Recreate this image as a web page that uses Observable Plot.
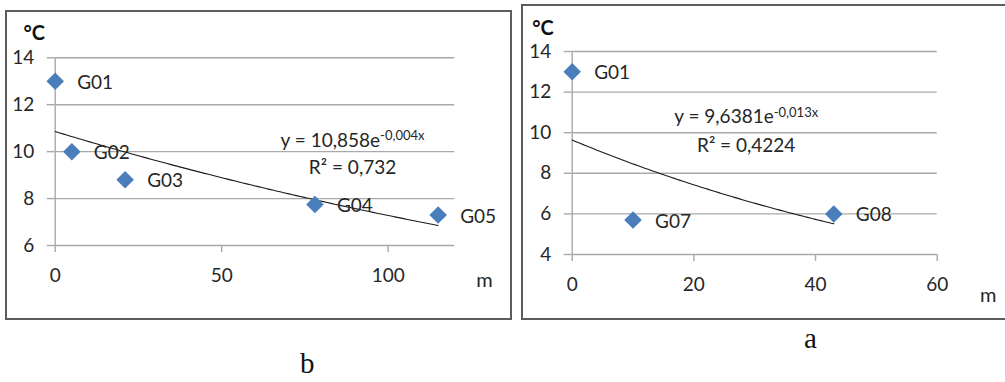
<!DOCTYPE html>
<html>
<head>
<meta charset="utf-8">
<script src="https://cdn.jsdelivr.net/npm/d3@7"></script>
<script src="https://cdn.jsdelivr.net/npm/@observablehq/plot@0.6"></script>
<style>
  html, body { margin: 0; padding: 0; background: #fff; }
  #page { position: relative; width: 1005px; height: 382px; overflow: hidden; background: #fff; }
  .frame { position: absolute; box-sizing: border-box; border: 2px solid #5c5c5c; }
  .chart { position: absolute; top: 0; }
  .cap { position: absolute; font-family: "Liberation Serif", "Times New Roman", serif; font-size: 29px; color: #111; line-height: 0.8; height: 24px; }
</style>
</head>
<body>
<div id="page">
  <div class="frame" style="left:5px; top:10px; width:507px; height:310px;"></div>
  <div class="frame" style="left:521px; top:4px; width:500px; height:316px;"></div>
  <div id="left" class="chart" style="left:0px;"></div>
  <div id="right" class="chart" style="left:515px;"></div>
  <div class="cap" style="left:804px; top:327px;">a</div>
  <div class="cap" style="left:300px; top:352px;">b</div>
</div>
<script>
// ---- Data: panel b (left) ----
const leftNames = ["G01", "G02", "G03", "G04", "G05"];
const leftX = [0, 5, 21, 78, 115];
const leftY = [13, 10, 8.8, 7.75, 7.3];
const leftXTicks = [0, 50, 100];
const leftYTicks = [6, 8, 10, 12, 14];
const leftTrend = [10.858, -0.004];           // y = a·e^(b·x)
const leftEq = "y = 10,858e^-0,004x";
const leftR2 = "R² = 0,732";

// ---- Data: panel a (right) ----
const rightNames = ["G01", "G07", "G08"];
const rightX = [0, 10, 43];
const rightY = [13, 5.7, 6.0];
const rightXTicks = [0, 20, 40, 60];
const rightYTicks = [4, 6, 8, 10, 12, 14];
const rightTrend = [9.6381, -0.013];
const rightEq = "y = 9,6381e^-0,013x";
const rightR2 = "R² = 0,4224";

const unitY = "°C";
const unitX = "m";

const GRID = "#a9a9a9";
const BLUE = "#4a7ebb";
const TEXT = "#262626";

function trendPoints(coef, xs) {
  const x0 = d3.min(xs), x1 = d3.max(xs);
  return d3.range(0, 101).map(i => {
    const x = x0 + (x1 - x0) * i / 100;
    return {x, y: coef[0] * Math.exp(coef[1] * x)};
  });
}

function makePanel(cfg) {
  const pts = cfg.names.map((n, i) => ({name: n, x: cfg.xs[i], y: cfg.ys[i]}));
  const plot = Plot.plot({
    width: cfg.width, height: 320,
    marginLeft: cfg.ml, marginRight: cfg.mr, marginTop: cfg.mt, marginBottom: cfg.mb,
    x: {domain: cfg.xDomain, ticks: cfg.xTicks},
    y: {domain: cfg.yDomain, ticks: cfg.yTicks},
    style: {fontFamily: "Lato, 'Open Sans', sans-serif", fontSize: "19px", color: TEXT, background: "transparent", overflow: "visible"},
    marks: [
      Plot.gridY(cfg.yTicks, {stroke: GRID, strokeOpacity: 1, strokeWidth: 1.4}),
      Plot.ruleX([cfg.xDomain[0]], {y1: cfg.yDomain[0], y2: cfg.yDomain[1], stroke: GRID, strokeWidth: 1.4}),
      Plot.axisY(cfg.yTicks, {tickSize: 8, tickPadding: 13, stroke: GRID, strokeWidth: 1.4, label: null, fontSize: 19, fill: TEXT}),
      Plot.axisX(cfg.xTicks, {tickSize: 7, tickPadding: 16, stroke: GRID, strokeWidth: 1.4, label: null, fontSize: 19, fill: TEXT}),
      Plot.line(trendPoints(cfg.trend, cfg.xs), {x: "x", y: "y", stroke: "#1a1a1a", strokeWidth: 1.1}),
      Plot.dot(pts, {x: "x", y: "y", symbol: "diamond2", r: 7.9, fill: BLUE, stroke: "none"}),
      Plot.text(pts, {x: "x", y: "y", text: "name", dx: 22, dy: 1.5, textAnchor: "start", fontSize: 19, fill: TEXT}),
      Plot.text([cfg.eq], {x: cfg.eqPos[0], y: cfg.eqPos[1], text: d => d, textAnchor: "middle", fontSize: 19, fill: TEXT}),
      Plot.text([cfg.r2], {x: cfg.r2Pos[0], y: cfg.r2Pos[1], text: d => d, textAnchor: "middle", fontSize: 19, fill: TEXT}),
      Plot.text([unitY], {frameAnchor: "top-left", dx: cfg.cDx, dy: cfg.cDy, text: d => d, textAnchor: "start", lineAnchor: "middle", fontSize: 20, fontWeight: "bold", fill: "#111"}),
      Plot.text([unitX], {frameAnchor: "bottom-right", dx: cfg.mDx, dy: cfg.mDy, text: d => d, textAnchor: "middle", lineAnchor: "middle", fontSize: 20, fill: TEXT})
    ]
  });
  // superscript exponent in the equation
  d3.select(plot).selectAll("text").each(function() {
    const t = this.textContent;
    if (t.includes("^")) {
      const [main, sup] = t.split("^");
      const sel = d3.select(this);
      sel.text(null);
      sel.append("tspan").text(main);
      sel.append("tspan").attr("dy", "-6.5").attr("font-size", 13).text(sup);
    }
  });
  return plot;
}

document.getElementById("left").appendChild(makePanel({
  width: 515, ml: 54.7, mr: 60.7, mt: 57.3, mb: 75,
  names: leftNames, xs: leftX, ys: leftY,
  xDomain: [0, 120], yDomain: [6, 14], xTicks: leftXTicks, yTicks: leftYTicks,
  trend: leftTrend, eq: leftEq, r2: leftR2,
  eqPos: [89.3, 10.47], r2Pos: [89.3, 9.32],
  cDx: -31.7, cDy: -24.3, mDx: 29.7, mDy: 35
}));

document.getElementById("right").appendChild(makePanel({
  width: 490, ml: 56.7, mr: 68.3, mt: 51, mb: 66,
  names: rightNames, xs: rightX, ys: rightY,
  xDomain: [0, 60], yDomain: [4, 14], xTicks: rightXTicks, yTicks: rightYTicks,
  trend: rightTrend, eq: rightEq, r2: rightR2,
  eqPos: [28.6, 10.76], r2Pos: [28.6, 9.37],
  cDx: -40, cDy: -23, mDx: 51, mDy: 41
}));
</script>
</body>
</html>
